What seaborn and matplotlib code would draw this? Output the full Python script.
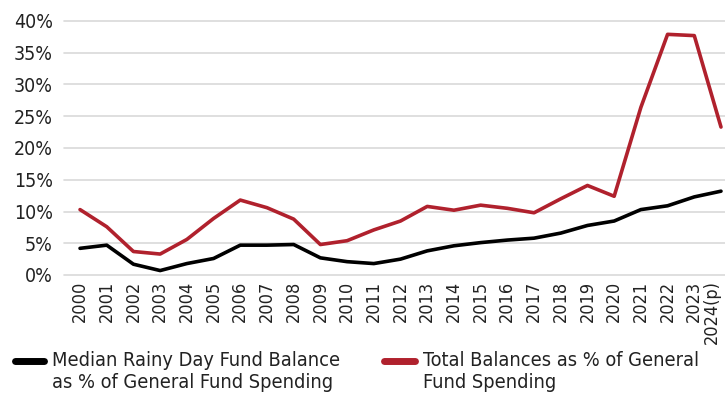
import matplotlib
matplotlib.use("Agg")
import matplotlib.pyplot as plt
import seaborn as sns
import pandas as pd
from matplotlib.lines import Line2D
from matplotlib import font_manager

years = ["2000", "2001", "2002", "2003", "2004", "2005", "2006", "2007", "2008", "2009",
         "2010", "2011", "2012", "2013", "2014", "2015", "2016", "2017", "2018", "2019",
         "2020", "2021", "2022", "2023", "2024(p)"]
median_rainy = [4.2, 4.7, 1.7, 0.7, 1.8, 2.6, 4.7, 4.7, 4.8, 2.7,
                2.1, 1.8, 2.5, 3.8, 4.6, 5.1, 5.5, 5.8, 6.6, 7.8,
                8.5, 10.3, 10.9, 12.3, 13.2]
total_bal = [10.3, 7.6, 3.7, 3.3, 5.6, 8.9, 11.8, 10.6, 8.8, 4.8,
             5.4, 7.1, 8.5, 10.8, 10.2, 11.0, 10.5, 9.8, 12.0, 14.1,
             12.4, 26.4, 37.9, 37.7, 23.3]
series_names = ["Median Rainy Day Fund Balance\nas % of General Fund Spending",
                "Total Balances as % of General\nFund Spending"]
yticks = [0, 5, 10, 15, 20, 25, 30, 35, 40]
series_colors = ["#000000", "#b0212d"]

sns.set_style("white")
names = {f.name for f in font_manager.fontManager.ttflist}
cond = [n for n in ["Liberation Sans Narrow", "DejaVu Sans Condensed"] if n in names]
fam = cond + ["DejaVu Sans"]
plt.rcParams["font.family"] = fam
plt.rcParams["font.stretch"] = "condensed"

df = pd.DataFrame({
    "idx": list(range(len(years))) * 2,
    "value": median_rainy + total_bal,
    "series": [series_names[0]] * len(years) + [series_names[1]] * len(years),
})

W, H = 725, 396
fig = plt.figure(figsize=(W / 100, H / 100), dpi=100)
ax = fig.add_axes([64 / W, 1 - 275 / H, 1 - 64 / W, 254 / H])
palette = dict(zip(series_names, series_colors))
sns.lineplot(data=df, x="idx", y="value", hue="series", palette=palette,
             linewidth=2.6, ax=ax, legend=False, zorder=3)

ax.set_ylim(0, 40)
ax.set_xlim(-0.6, 24.15)
ax.set_yticks(yticks)
ax.set_yticklabels([f"{v}%" for v in yticks], fontsize=14, color="#222222")
ax.set_xticks(range(len(years)))
ax.set_xticklabels(years, rotation=90, fontsize=13, color="#222222")
ax.yaxis.grid(True, color="#d9d9d9", linewidth=1.2)
ax.xaxis.grid(False)
for gl in ax.get_ygridlines():
    gl.set_clip_on(False)
for s in ax.spines.values():
    s.set_visible(False)
ax.tick_params(axis="y", length=0, pad=8)
ax.tick_params(axis="x", length=0, pad=4)
ax.set_xlabel("")
ax.set_ylabel("")
for ln in ax.lines:
    ln.set_clip_on(False)
for lab in ax.get_xticklabels():
    if "(p)" in lab.get_text():
        lab.set_horizontalalignment("right")

# legend drawn below the plot
legend_spec = [(15, 44, 52), (384, 415, 423)]
for (hx0, hx1, tx), name, col in zip(legend_spec, series_names, series_colors):
    fig.add_artist(Line2D([hx0 / W, hx1 / W], [1 - 361 / H, 1 - 361 / H],
                          transform=fig.transFigure, color=col, linewidth=5,
                          solid_capstyle="round"))
    fig.text(tx / W, 1 - 372 / H, name, fontsize=14.3, color="#222222",
             va="center", ha="left", linespacing=1.2)

fig.savefig("out.png", dpi=100)
